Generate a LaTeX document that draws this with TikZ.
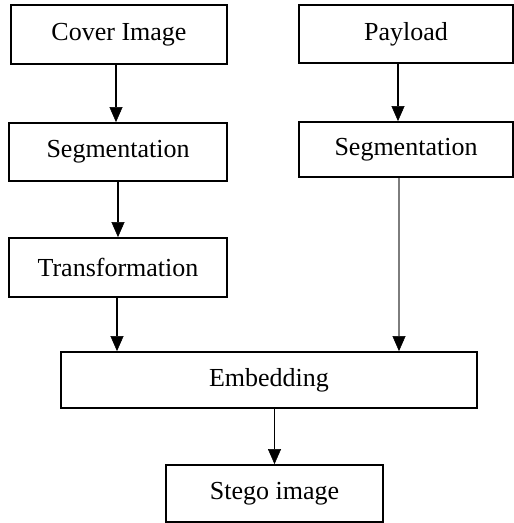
\documentclass[tikz,border=0pt]{standalone}
\usepackage{fontspec}
\setmainfont{Liberation Serif}
\usetikzlibrary{arrows.meta}
\definecolor{shaftgray}{RGB}{125,125,125}
\begin{document}
\begin{tikzpicture}[x=1pt,y=-1pt,
  box/.style={draw=black,line width=1.8pt,inner sep=0pt,font=\fontsize{26}{31}\selectfont},
  conn/.style={line width=1.9pt,-{Triangle[width=13pt,length=15pt,line width=0.5pt]}},
  grayconn/.style={line width=2.8pt,color=shaftgray,-{Triangle[width=13pt,length=15pt,line width=0.5pt,color=black]}}]
\useasboundingbox (0,0) rectangle (514,523);
\node[box,minimum width=216pt,minimum height=59pt] (cover) at (119,34.5) {Cover Image};
\node[box,minimum width=218pt,minimum height=58pt] (segL) at (118,152) {Segmentation};
\node[box,minimum width=214pt,minimum height=58pt] (payload) at (406,34) {Payload};
\node[box,minimum width=214pt,minimum height=55pt] (segR) at (406,149.5) {Segmentation};
\node[box,minimum width=218pt,minimum height=59pt] (trans) at (118,267.5) {Transformation};
\node[box,minimum width=416pt,minimum height=56pt] (emb) at (269,380) {Embedding};
\node[box,minimum width=217pt,minimum height=57pt] (stego) at (274.5,493.5) {Stego image};
\draw[conn] ([xshift=-3pt]cover.south) -- ([xshift=-3pt]cover.south |- segL.north);
\draw[conn] (segL.south) -- (trans.north);
\draw[conn] ([xshift=-1pt]trans.south) -- ([xshift=-1pt]trans.south |- emb.north);
\draw[conn] ([xshift=-8pt]payload.south) -- ([xshift=-8pt]payload.south |- segR.north);
\draw[grayconn] ([xshift=-7pt]segR.south) -- ([xshift=-7pt]segR.south |- emb.north);
\draw[conn] (emb.south -| stego.north) -- (stego.north);
\end{tikzpicture}
\end{document}
